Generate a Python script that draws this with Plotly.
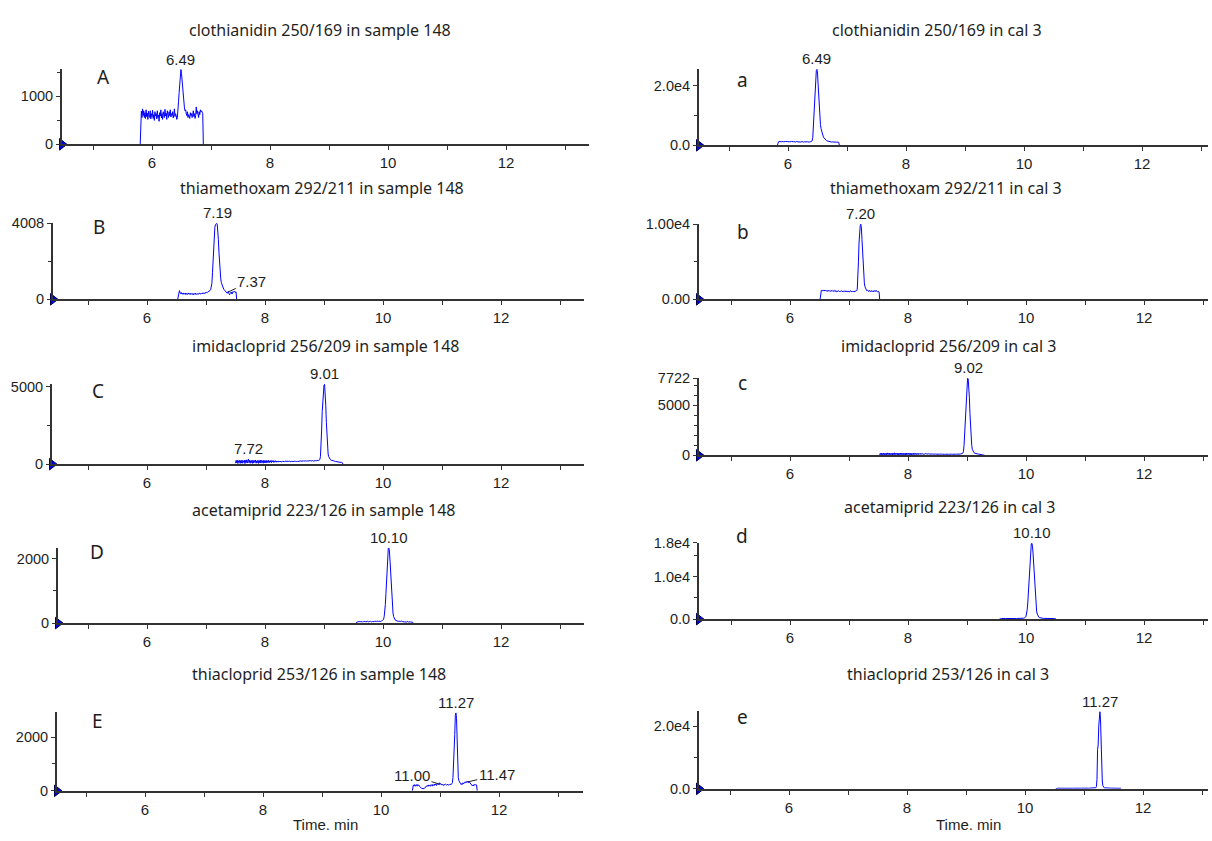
import plotly.graph_objects as go

# ---------------- data ----------------
X_TICKS = [6, 8, 10, 12]
DT = 0.01  # sampling interval of the chromatograms (min)

# left column: sample 148
A_title = "clothianidin 250/169 in sample 148"
A_t0 = 5.80
A_int = [0, 420, 690, 560, 740, 600, 700, 560, 660, 540,
         720, 580, 650, 520, 690, 600, 560, 700, 530, 640,
         580, 710, 540, 620, 500, 680, 590, 640, 530, 700,
         560, 610, 480, 660, 590, 720, 550, 640, 520, 680,
         600, 560, 730, 590, 650, 520, 700, 610, 560, 680,
         600, 720, 570, 640, 600, 680, 550, 620, 740, 580,
         640, 600, 520, 560, 680, 900, 1080, 1200, 1420, 1560,
         1480, 1300, 1180, 980, 860, 760, 700, 720, 640, 600,
         680, 560, 620, 590, 540, 660, 600, 640, 560, 610,
         700, 580, 640, 540, 600, 780, 640, 700, 600, 560,
         680, 620, 720, 680, 700, 670, 640, 0]
A_peaks = ["6.49"]
A_leaders = []
A_yticks = [0, 1000]
A_yticktext = ["0", "1000"]

B_title = "thiamethoxam 292/211 in sample 148"
B_t0 = 6.52
B_int = [0, 200, 380, 460, 340, 300, 360, 280, 320, 260,
         340, 300, 270, 330, 250, 310, 290, 260, 340, 280,
         300, 250, 320, 270, 300, 260, 310, 240, 300, 280,
         320, 250, 290, 270, 310, 260, 300, 340, 280, 320,
         300, 330, 290, 350, 310, 340, 300, 360, 330, 370,
         350, 390, 400, 420, 450, 470, 520, 620, 850, 1400,
         2200, 3000, 3550, 3800, 3920, 3980, 4000, 3960, 3700, 3150,
         2450, 1850, 1400, 1080, 880, 760, 680, 600, 540, 500,
         460, 420, 390, 350, 320, 380, 430, 300, 240, 310,
         370, 390, 280, 350, 410, 370, 420, 380, 400, 390,
         0]
B_peaks = ["7.19"]
B_leaders = ["7.37"]
B_yticks = [0, 4008]
B_yticktext = ["0", "4008"]

C_title = "imidacloprid 256/209 in sample 148"
C_t0 = 7.50
C_int = [60, 240, 90, 260, 40, 220, 110, 250, 50, 230,
         80, 270, 60, 210, 120, 260, 40, 240, 100, 280,
         70, 300, 330, 90, 250, 60, 220, 110, 260, 50,
         240, 80, 230, 120, 270, 60, 210, 100, 250, 50,
         230, 90, 260, 70, 240, 110, 220, 60, 250, 90,
         230, 100, 240, 80, 220, 120, 250, 90, 210, 130,
         240, 100, 220, 140, 230, 110, 210, 150, 220, 120,
         200, 160, 210, 130, 190, 150, 200, 140, 180, 160,
         190, 170, 200, 160, 190, 180, 210, 170, 190, 160,
         180, 200, 170, 190, 150, 180, 170, 200, 160, 170,
         190, 160, 180, 170, 150, 180, 170, 190, 200, 180,
         210, 190, 200, 220, 190, 210, 200, 220, 190, 210,
         200, 230, 210, 200, 220, 190, 210, 230, 200, 220,
         210, 230, 200, 220, 240, 210, 230, 220, 240, 230,
         250, 240, 260, 300, 500, 1100, 2200, 3400, 4300, 4900,
         5100, 5150, 4700, 3800, 2700, 1700, 1000, 650, 480, 380,
         330, 290, 260, 240, 230, 220, 200, 210, 190, 180,
         170, 180, 160, 150, 140, 150, 130, 140, 120, 110,
         120, 100, 0]
C_peaks = ["9.01", "7.72"]
C_leaders = []
C_yticks = [0, 5000]
C_yticktext = ["0", "5000"]

D_title = "acetamiprid 223/126 in sample 148"
D_t0 = 9.55
D_int = [0, 40, 30, 50, 30, 40, 60, 30, 50, 40,
         30, 50, 40, 60, 30, 40, 50, 30, 40, 60,
         40, 30, 50, 40, 60, 40, 30, 50, 40, 50,
         40, 60, 50, 40, 50, 60, 40, 50, 60, 50,
         60, 50, 70, 60, 80, 90, 120, 200, 340, 580,
         920, 1360, 1800, 2140, 2310, 2330, 2200, 1900, 1500, 1100,
         760, 490, 310, 200, 140, 110, 90, 80, 70, 60,
         60, 50, 60, 50, 40, 50, 60, 40, 50, 40,
         50, 40, 30, 50, 40, 30, 40, 50, 30, 40,
         30, 40, 30, 40, 30, 30, 0]
D_peaks = ["10.10"]
D_leaders = []
D_yticks = [0, 2000]
D_yticktext = ["0", "2000"]

E_title = "thiacloprid 253/126 in sample 148"
E_t0 = 10.53
E_int = [0, 150, 220, 180, 230, 170, 210, 190, 240, 180,
         200, 220, 170, 160, 130, 110, 90, 80, 70, 60,
         80, 100, 130, 150, 180, 160, 200, 170, 220, 190,
         210, 170, 230, 200, 180, 240, 210, 190, 250, 220,
         260, 200, 240, 280, 230, 260, 300, 240, 270, 230,
         250, 210, 240, 200, 230, 220, 250, 230, 210, 240,
         220, 230, 210, 240, 230, 250, 240, 260, 300, 500,
         1400, 1500, 2100, 2800, 2900, 2700, 1600, 900, 500, 380,
         320, 280, 260, 230, 270, 240, 300, 260, 280, 320,
         300, 340, 310, 360, 330, 300, 350, 320, 280, 250,
         230, 200, 180, 220, 190, 240, 210, 230, 200, 220,
         0]
E_peaks = ["11.27"]
E_leaders = ["11.00", "11.47"]
E_yticks = [0, 2000]
E_yticktext = ["0", "2000"]

# right column: calibration standard 3
a_title = "clothianidin 250/169 in cal 3"
a_t0 = 5.82
a_int = [0, 900, 1200, 1300, 1250, 1150, 1250, 1200, 1300, 1150,
         1200, 1250, 1100, 1200, 1300, 1200, 1150, 1250, 1200, 1100,
         1200, 1250, 1150, 1200, 1300, 1200, 1100, 1200, 1250, 1150,
         1200, 1100, 1250, 1200, 1150, 1200, 1300, 1150, 1200, 1100,
         1200, 1250, 1150, 1200, 1100, 1250, 1200, 1150, 1200, 1250,
         1150, 1200, 1100, 1200, 1250, 1150, 1200, 1250, 1300, 1500,
         2600, 6000, 12000, 17000, 19000, 22500, 25000, 25400, 24200, 20500,
         16000, 12500, 9200, 7000, 5600, 4600, 3800, 3200, 2800, 2500,
         2200, 2000, 1800, 1650, 1500, 1420, 1350, 1300, 1250, 1200,
         1150, 1200, 1100, 1150, 1100, 1200, 1100, 1050, 1150, 1100,
         1050, 1100, 1050, 1100, 1000, 0]
a_peaks = ["6.49"]
a_leaders = []
a_yticks = [0, 20000]
a_yticktext = ["0.0", "2.0e4"]

b_title = "thiamethoxam 292/211 in cal 3"
b_t0 = 6.51
b_int = [0, 900, 1150, 1250, 1100, 1200, 1150, 1250, 1100, 1200,
         1150, 1100, 1200, 1050, 1150, 1200, 1100, 1150, 1050, 1200,
         1100, 1150, 1050, 1100, 1200, 1050, 1100, 1150, 1000, 1100,
         1050, 1150, 1100, 1000, 1100, 1050, 1150, 1050, 1100, 1000,
         1100, 1050, 1150, 1000, 1100, 1050, 1000, 1100, 1050, 1100,
         1000, 1150, 1050, 1100, 1000, 1050, 1100, 1000, 1050, 1100,
         1050, 1100, 1150, 1350, 2600, 5000, 7500, 9200, 9800, 10000,
         9500, 8000, 6000, 4200, 3000, 2200, 1700, 1400, 1250, 1150,
         1200, 1100, 1150, 1050, 1200, 1100, 1000, 1150, 1100, 1050,
         1150, 1000, 1100, 1200, 1050, 1100, 1150, 1000, 1100, 1050,
         1000, 0]
b_peaks = ["7.20"]
b_leaders = []
b_yticks = [0, 10000]
b_yticktext = ["0.00", "1.00e4"]

c_title = "imidacloprid 256/209 in cal 3"
c_t0 = 7.52
c_int = [40, 200, 60, 220, 30, 180, 80, 230, 50, 190,
         70, 210, 40, 240, 90, 200, 50, 220, 60, 180,
         80, 230, 40, 200, 70, 250, 50, 190, 90, 210,
         60, 220, 40, 200, 80, 230, 50, 210, 70, 190,
         50, 220, 80, 200, 40, 230, 60, 190, 90, 210,
         60, 200, 70, 220, 50, 180, 80, 210, 60, 190,
         90, 200, 70, 180, 100, 210, 80, 170, 110, 190,
         90, 170, 110, 180, 100, 160, 120, 170, 110, 150,
         120, 160, 110, 150, 130, 140, 120, 150, 110, 140,
         130, 120, 140, 110, 130, 120, 110, 130, 120, 110,
         120, 110, 130, 100, 120, 110, 120, 100, 110, 120,
         100, 110, 120, 100, 110, 120, 100, 110, 100, 120,
         110, 100, 120, 110, 100, 110, 120, 110, 100, 110,
         120, 110, 130, 120, 110, 130, 120, 140, 130, 150,
         170, 220, 400, 1000, 2200, 3800, 5400, 6700, 7500, 7700,
         7650, 7000, 5800, 4200, 2800, 1700, 1000, 600, 400, 300,
         250, 220, 190, 170, 160, 150, 140, 130, 120, 110,
         110, 100, 90, 100, 90, 80, 90, 80, 0]
c_peaks = ["9.02"]
c_leaders = []
c_yticks = [0, 5000, 7722]
c_yticktext = ["0", "5000", "7722"]

d_title = "acetamiprid 223/126 in cal 3"
d_t0 = 9.55
d_int = [0, 120, 150, 140, 160, 130, 150, 140, 160, 150,
         140, 160, 150, 130, 150, 160, 140, 150, 130, 150,
         160, 140, 150, 160, 140, 150, 160, 150, 140, 160,
         150, 160, 170, 150, 160, 170, 160, 180, 170, 190,
         200, 220, 260, 330, 450, 700, 1200, 2200, 3800, 6000,
         8800, 11800, 14600, 16800, 17800, 17900, 17200, 15400, 12800, 9800,
         7000, 4700, 3000, 1900, 1200, 800, 560, 420, 340, 290,
         260, 230, 210, 200, 190, 180, 170, 180, 170, 160,
         170, 160, 150, 160, 150, 140, 150, 160, 140, 150,
         140, 150, 130, 140, 150, 120, 0]
d_peaks = ["10.10"]
d_leaders = []
d_yticks = [0, 10000, 18000]
d_yticktext = ["0.0", "1.0e4", "1.8e4"]

e_title = "thiacloprid 253/126 in cal 3"
e_t0 = 10.52
e_int = [0, 150, 200, 180, 200, 190, 210, 180, 200, 190,
         200, 180, 210, 190, 200, 180, 190, 200, 180, 210,
         190, 200, 180, 200, 210, 190, 200, 180, 200, 190,
         210, 190, 200, 180, 200, 210, 190, 200, 210, 190,
         200, 210, 190, 200, 220, 200, 210, 190, 220, 200,
         210, 200, 220, 210, 200, 220, 210, 230, 220, 210,
         230, 220, 240, 230, 250, 240, 260, 280, 350, 700,
         3000, 12500, 14000, 20000, 24000, 24600, 22000, 14000, 6000, 2500,
         1000, 520, 380, 320, 290, 270, 260, 250, 240, 250,
         240, 230, 240, 230, 220, 230, 220, 210, 220, 210,
         200, 210, 200, 190, 200, 190, 200, 190, 180, 190,
         180, 0]
e_peaks = ["11.27"]
e_leaders = []
e_yticks = [0, 20000]
e_yticktext = ["0.0", "2.0e4"]

X_LABEL = "Time. min"

# ---------------- layout / styling ----------------
W, H = 1212, 841
PX_PER_MIN = 59.0
BLUE = "#0000ff"
AXIS = "#333333"
TXT = "#1e1e1e"
TICK_FONT = "Liberation Sans, Arial, sans-serif"
TITLE_FONT = "Noto Sans, Open Sans, sans-serif"


def sample_times(t0, n):
    return [round(t0 + DT * i, 2) for i in range(n)]


# geometry in pixels: left/right of x axis, pixel of the "6" tick, top/bottom of y axis
panels = [
    dict(letter="A", title=A_title, t0=A_t0, vals=A_int, peaks=A_peaks, leaders=A_leaders,
         yt=A_yticks, ytt=A_yticktext, ymax=1575, minor=500,
         left=62, right=589, p6=152, top=62, bottom=139, tx=187, ty=22, lx=103, ly=70),
    dict(letter="B", title=B_title, t0=B_t0, vals=B_int, peaks=B_peaks, leaders=B_leaders,
         yt=B_yticks, ytt=B_yticktext, ymax=4030, minor=2000,
         left=53, right=584, p6=147, top=219, bottom=297, tx=178, ty=184, lx=99, ly=223),
    dict(letter="C", title=C_title, t0=C_t0, vals=C_int, peaks=C_peaks, leaders=C_leaders,
         yt=C_yticks, ytt=C_yticktext, ymax=5190, minor=2500,
         left=52, right=584, p6=147, top=383, bottom=465, tx=190, ty=345, lx=98, ly=390),
    dict(letter="D", title=D_title, t0=D_t0, vals=D_int, peaks=D_peaks, leaders=D_leaders,
         yt=D_yticks, ytt=D_yticktext, ymax=2340, minor=1000,
         left=58, right=584, p6=147, top=550, bottom=627, tx=190, ty=512, lx=97, ly=555),
    dict(letter="E", title=E_title, t0=E_t0, vals=E_int, peaks=E_peaks, leaders=E_leaders,
         yt=E_yticks, ytt=E_yticktext, ymax=2920, minor=1000,
         left=57, right=583, p6=145, top=718, bottom=798, tx=190, ty=679, lx=97, ly=727),
    dict(letter="a", title=a_title, t0=a_t0, vals=a_int, peaks=a_peaks, leaders=a_leaders,
         yt=a_yticks, ytt=a_yticktext, ymax=25600, minor=10000,
         left=699, right=1208, p6=788, top=62, bottom=140, tx=830, ty=22, lx=742, ly=73),
    dict(letter="b", title=b_title, t0=b_t0, vals=b_int, peaks=b_peaks, leaders=b_leaders,
         yt=b_yticks, ytt=b_yticktext, ymax=10050, minor=5000,
         left=699, right=1208, p6=790, top=220, bottom=297, tx=828, ty=184, lx=743, ly=228),
    dict(letter="c", title=c_title, t0=c_t0, vals=c_int, peaks=c_peaks, leaders=c_leaders,
         yt=c_yticks, ytt=c_yticktext, ymax=7740, minor=1000,
         left=699, right=1208, p6=790, top=377, bottom=456, tx=839, ty=345, lx=742, ly=382),
    dict(letter="d", title=d_title, t0=d_t0, vals=d_int, peaks=d_peaks, leaders=d_leaders,
         yt=d_yticks, ytt=d_yticktext, ymax=18050, minor=5000,
         left=699, right=1208, p6=790, top=545, bottom=623, tx=842, ty=509, lx=742, ly=538),
    dict(letter="e", title=e_title, t0=e_t0, vals=e_int, peaks=e_peaks, leaders=e_leaders,
         yt=e_yticks, ytt=e_yticktext, ymax=24700, minor=10000,
         left=699, right=1208, p6=789, top=717, bottom=796, tx=845, ty=679, lx=743, ly=723),
]

# leader-label offsets (pixels from the trace point to the label centre)
LEADER_OFFSETS = {"7.37": (24, -11), "11.00": (-28, -9), "11.47": (29, -7)}

fig = go.Figure()
layout = {}
annotations = []

for i, p in enumerate(panels, start=1):
    sfx = "" if i == 1 else str(i)
    xr, yr = "x" + sfx, "y" + sfx
    t = sample_times(p["t0"], len(p["vals"]))
    x0 = 6 - (p["p6"] - p["left"]) / PX_PER_MIN
    x1 = 6 + (p["right"] - p["p6"]) / PX_PER_MIN

    fig.add_trace(go.Scatter(x=t, y=p["vals"], mode="lines",
                             line=dict(color=BLUE, width=1),
                             xaxis=xr, yaxis=yr, hoverinfo="skip", showlegend=False))
    fig.add_trace(go.Scatter(x=[x0], y=[0], mode="markers",
                             marker=dict(symbol="triangle-right", size=10, color="#0000e0",
                                         line=dict(color="#000050", width=1)),
                             cliponaxis=False, xaxis=xr, yaxis=yr,
                             hoverinfo="skip", showlegend=False))

    layout["xaxis" + sfx] = dict(
        domain=[p["left"] / W, p["right"] / W], range=[x0, x1], anchor=yr,
        showline=True, linecolor=AXIS, linewidth=2, showgrid=False, zeroline=False,
        ticks="outside", ticklen=4, tickwidth=1.2, tickcolor=AXIS,
        tickmode="array", tickvals=X_TICKS, ticktext=[str(v) for v in X_TICKS],
        minor=dict(tickmode="linear", tick0=0, dtick=1, ticks="outside", ticklen=4,
                   tickwidth=1.2, tickcolor=AXIS),
        tickfont=dict(family=TICK_FONT, size=15, color=TXT), fixedrange=True)
    layout["yaxis" + sfx] = dict(
        domain=[1 - p["bottom"] / H, 1 - p["top"] / H], range=[0, p["ymax"]], anchor=xr,
        showline=True, linecolor=AXIS, linewidth=2, showgrid=False, zeroline=False,
        ticks="outside", ticklen=4, tickwidth=1.2, tickcolor=AXIS,
        tickmode="array", tickvals=p["yt"], ticktext=p["ytt"],
        minor=dict(tickmode="linear", tick0=0, dtick=p["minor"], ticks="outside", ticklen=3,
                   tickwidth=1, tickcolor=AXIS),
        tickfont=dict(family=TICK_FONT, size=14.5, color=TXT), fixedrange=True)

    # panel title
    annotations.append(dict(text=p["title"], xref="paper", yref="paper",
                            x=p["tx"] / W, y=1 - p["ty"] / H, xanchor="left", yanchor="middle",
                            showarrow=False, font=dict(family=TITLE_FONT, size=16, color=TXT)))
    # panel letter
    annotations.append(dict(text=p["letter"], xref="paper", yref="paper",
                            x=p["lx"] / W, y=1 - p["ly"] / H, xanchor="center", yanchor="middle",
                            showarrow=False, font=dict(family=TITLE_FONT, size=19, color=TXT)))
    # peak retention-time labels
    for lab in p["peaks"]:
        rt = float(lab)
        ypk = max(v for tt, v in zip(t, p["vals"]) if abs(tt - rt) <= 0.03)
        annotations.append(dict(text=lab, xref=xr, yref=yr, x=rt, y=ypk,
                                xanchor="center", yanchor="bottom", yshift=0, showarrow=False,
                                font=dict(family=TICK_FONT, size=15, color=TXT)))
    for lab in p["leaders"]:
        rt = float(lab)
        k = min(range(len(t)), key=lambda j: abs(t[j] - rt))
        ax, ay = LEADER_OFFSETS[lab]
        annotations.append(dict(text=lab, xref=xr, yref=yr, x=rt, y=p["vals"][k],
                                ax=ax, ay=ay, showarrow=True, arrowhead=0, arrowwidth=1,
                                arrowcolor="#222222", standoff=0, startstandoff=0,
                                font=dict(family=TICK_FONT, size=15, color=TXT)))

# x-axis titles
annotations.append(dict(text=X_LABEL, xref="paper", yref="paper", x=325 / W, y=1 - 832 / H,
                        xanchor="center", yanchor="middle", showarrow=False,
                        font=dict(family=TICK_FONT, size=15, color=TXT)))
annotations.append(dict(text=X_LABEL, xref="paper", yref="paper", x=968 / W, y=1 - 832 / H,
                        xanchor="center", yanchor="middle", showarrow=False,
                        font=dict(family=TICK_FONT, size=15, color=TXT)))

fig.update_layout(**layout)
fig.update_layout(width=W, height=H, margin=dict(l=0, r=0, t=0, b=0),
                  paper_bgcolor="white", plot_bgcolor="white",
                  annotations=annotations, showlegend=False)

fig.write_html("out.html", config={"displayModeBar": False},
               post_script="document.body.style.margin='0';")
